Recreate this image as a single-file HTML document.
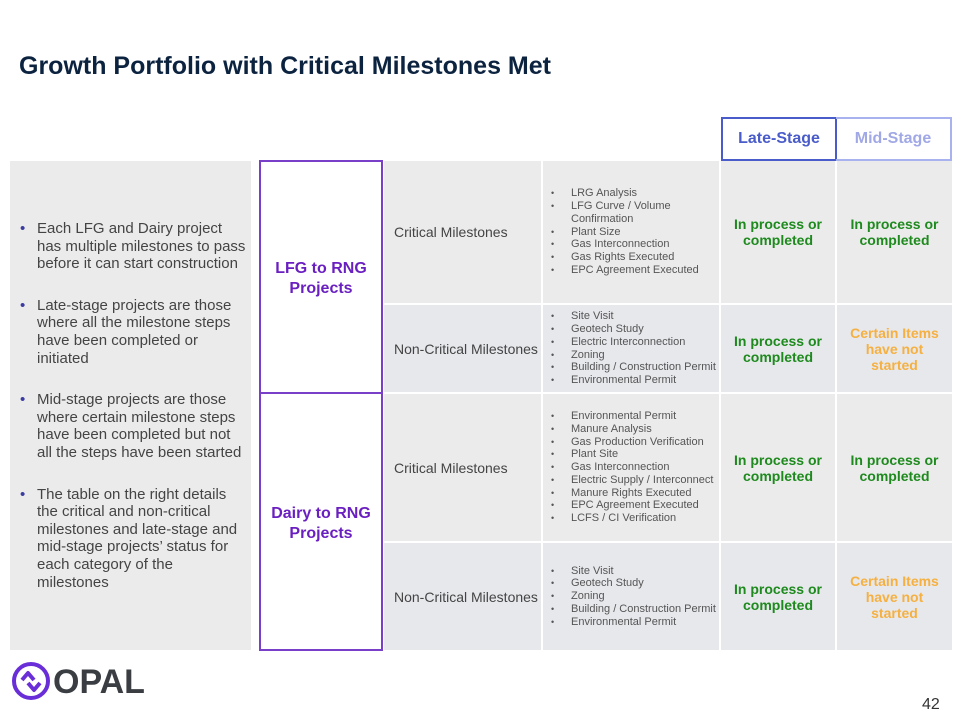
<!DOCTYPE html>
<html><head><meta charset="utf-8"><style>
body{margin:0;width:960px;height:720px;background:#fff;position:relative;overflow:hidden;font-family:"Liberation Sans",Arial,sans-serif}
.a{position:absolute;box-sizing:border-box}
.c{display:flex;align-items:center;justify-content:center;text-align:center}
.g{background:#ebebeb}
.g2{background:#e7e8ec}
.lbl{font-size:14px;color:#444;justify-content:flex-start;padding-left:10px;white-space:nowrap}
ul.l{margin:0;padding:0 0 0 28px;font-size:11px;color:#555;line-height:12.8px;list-style:none;text-align:left}
ul.l li{position:relative}
ul.l li:before{content:"•";position:absolute;left:-20px;font-size:9px}
.gr{color:#1e8a1e;font-weight:bold;font-size:14px;line-height:16px}
.or{color:#f5b041;font-weight:bold;font-size:14px;line-height:16px}
.left{font-size:15px;color:#444;line-height:17.6px}
.left p{margin:0 0 24px 0;padding-left:17px;position:relative}
.left p:before{content:"•";position:absolute;left:0;color:#3b3ba0}
</style></head><body>
<div class="a" style="left:19px;top:52px;font-size:25px;font-weight:bold;color:#0c2340;white-space:nowrap">Growth Portfolio with Critical Milestones Met</div>

<div class="a c" style="left:721px;top:117px;width:116px;height:44px;border:2px solid #4a5cc9;color:#4a5cc9;font-weight:bold;font-size:16px">Late-Stage</div>
<div class="a c" style="left:836px;top:117px;width:116px;height:44px;border:2px solid #a8b2ee;border-left:none;color:#a0a8e6;font-weight:bold;font-size:16px">Mid-Stage</div>

<div class="a g" style="left:10px;top:161px;width:241px;height:489px"></div>
<div class="a left" style="left:20px;top:220px;width:228px">
<p>Each LFG and Dairy project has multiple milestones to pass before it can start construction</p>
<p>Late-stage projects are those where all the milestone steps have been completed or initiated</p>
<p>Mid-stage projects are those where certain milestone steps have been completed but not all the steps have been started</p>
<p>The table on the right details the critical and non-critical milestones and late-stage and mid-stage projects’ status for each category of the milestones</p>
</div>

<div class="a c" style="left:259px;top:160px;width:124px;height:234px;border:2px solid #7a3fc8;color:#6a1fc0;font-weight:bold;font-size:16px;line-height:20px;padding-top:4px">LFG to RNG<br>Projects</div>
<div class="a c" style="left:259px;top:392px;width:124px;height:259px;border:2px solid #7a3fc8;color:#6a1fc0;font-weight:bold;font-size:16px;line-height:20px;padding-top:4px">Dairy to RNG<br>Projects</div>

<div class="a c g lbl" style="left:384px;top:161px;width:157px;height:142px">Critical Milestones</div>
<div class="a c g" style="left:543px;top:161px;width:176px;height:142px;justify-content:flex-start"><ul class="l"><li>LRG Analysis</li><li>LFG Curve / Volume Confirmation</li><li>Plant Size</li><li>Gas Interconnection</li><li>Gas Rights Executed</li><li>EPC Agreement Executed</li></ul></div>
<div class="a c g gr" style="left:721px;top:161px;width:114px;height:142px">In process or<br>completed</div>
<div class="a c g gr" style="left:837px;top:161px;width:115px;height:142px">In process or<br>completed</div>

<div class="a c g2 lbl" style="left:384px;top:305px;width:157px;height:87px">Non-Critical Milestones</div>
<div class="a c g2" style="left:543px;top:305px;width:176px;height:87px;justify-content:flex-start"><ul class="l"><li>Site Visit</li><li>Geotech Study</li><li>Electric Interconnection</li><li>Zoning</li><li>Building / Construction Permit</li><li>Environmental Permit</li></ul></div>
<div class="a c g2 gr" style="left:721px;top:305px;width:114px;height:87px">In process or<br>completed</div>
<div class="a c g2 or" style="left:837px;top:305px;width:115px;height:87px">Certain Items<br>have not<br>started</div>

<div class="a c g lbl" style="left:384px;top:394px;width:157px;height:147px">Critical Milestones</div>
<div class="a c g" style="left:543px;top:394px;width:176px;height:147px;justify-content:flex-start"><ul class="l"><li>Environmental Permit</li><li>Manure Analysis</li><li>Gas Production Verification</li><li>Plant Site</li><li>Gas Interconnection</li><li>Electric Supply / Interconnect</li><li>Manure Rights Executed</li><li>EPC Agreement Executed</li><li>LCFS / CI Verification</li></ul></div>
<div class="a c g gr" style="left:721px;top:394px;width:114px;height:147px">In process or<br>completed</div>
<div class="a c g gr" style="left:837px;top:394px;width:115px;height:147px">In process or<br>completed</div>

<div class="a c g2 lbl" style="left:384px;top:543px;width:157px;height:107px">Non-Critical Milestones</div>
<div class="a c g2" style="left:543px;top:543px;width:176px;height:107px;justify-content:flex-start"><ul class="l"><li>Site Visit</li><li>Geotech Study</li><li>Zoning</li><li>Building / Construction Permit</li><li>Environmental Permit</li></ul></div>
<div class="a c g2 gr" style="left:721px;top:543px;width:114px;height:107px">In process or<br>completed</div>
<div class="a c g2 or" style="left:837px;top:543px;width:115px;height:107px">Certain Items<br>have not<br>started</div>

<svg class="a" style="left:11px;top:661px" width="40" height="40" viewBox="0 0 40 40">
<circle cx="20" cy="20" r="17" fill="none" stroke="#6a2ed8" stroke-width="4"/>
<polyline points="11,19 17,12 23,19" fill="none" stroke="#6a2ed8" stroke-width="4" stroke-linejoin="round"/>
<polyline points="17,22 23,29 29,22" fill="none" stroke="#6a2ed8" stroke-width="4" stroke-linejoin="round"/>
</svg>
<div class="a" style="left:53px;top:662px;font-size:34px;font-weight:900;color:#3a3d42;line-height:40px;white-space:nowrap">OPAL</div>

<div class="a" style="left:922px;top:696px;font-size:16px;color:#333">42</div>
</body></html>
